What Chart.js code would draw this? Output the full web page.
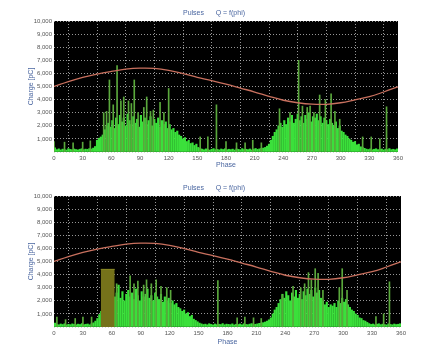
<!DOCTYPE html>
<html>
<head>
<meta charset="utf-8">
<script src="https://cdn.jsdelivr.net/npm/chart.js@4.4.0/dist/chart.umd.min.js"></script>
<style>
    html, body { margin: 0; padding: 0; background: #fff; }
    #wrap { position: relative; width: 428px; height: 353px; overflow: hidden; }
    .box { position: absolute; left: 0; width: 428px; }
    #top { top: 0; height: 172px; }
    #bottom { top: 175px; height: 178px; }
</style>
</head>
<body>
<div id="wrap">
    <div class="box" id="top"><canvas id="topChart"></canvas></div>
    <div class="box" id="bottom"><canvas id="bottomChart"></canvas></div>
</div>
<script>
// phase axis ticks
const phaseTicks = [0, 30, 60, 90, 120, 150, 180, 210, 240, 270, 300, 330, 360];

// pulse charge per 2 degree bin (0-2, 2-4, ... 358-360)
const topPulses = [
    320, 180, 240, 160, 220, 190, 150, 260, 200, 170, 230, 190, 160, 210, 250, 180, 220, 200, 260, 230, 300, 420,
    900, 1050, 1150, 1300, 1700, 2000,
    2200, 1900, 2400, 1800, 2600, 2100, 2800, 2300, 2600, 2000,
    2900, 2400, 2100, 2700, 2200, 2500, 1900, 2800, 2300, 2600,
    2100, 2400, 2700, 2000, 2500, 2200, 2600, 1900, 2400, 2100,
    2300, 1800, 2100, 1700, 1800, 1500, 1600, 1300, 1200, 1000,
    1100, 800, 900, 650, 700, 500, 600, 350,
    280, 220, 170, 240, 190, 150, 210, 260, 180, 200,
    160, 230, 190, 250, 170, 210, 180, 220, 150, 240,
    200, 170, 260, 190, 210, 180, 230, 160, 220, 270,
    200, 240, 280, 300, 350, 450,
    600, 900, 1200, 1500, 1700, 2000, 2200, 1900, 2400, 2100,
    2600, 2300, 2800, 2200, 2500, 2900, 2400, 2700, 2200, 2800,
    2500, 3000, 2300, 2700, 2600, 2900, 2400, 2700, 2200, 2600,
    2400, 2100, 2500, 2200, 2000, 2300, 1800, 2000, 1600, 1500,
    1300, 1200, 1000, 900, 750, 800, 550, 600, 400, 350,
    280, 220, 190, 240, 170, 210, 250, 180, 200, 230, 160, 220, 190, 260, 180, 210, 170, 240
];
const bottomPulses = [
    300, 200, 170, 230, 190, 250, 160, 210, 180, 240, 200, 170, 220, 190, 260, 180, 210, 230, 170, 250, 320, 450,
    650, 950,
    1200, 1500, 1800, 2000, 2200, 2400, 2500, 2300,
    2600, 3200, 2200, 2700, 2000, 2500, 2800, 2300, 2600, 2100,
    2900, 2400, 2000, 2700, 2300, 2500, 2900, 2200, 2400, 2000,
    2600, 2300, 2100, 2500, 1900, 2300, 2000, 2200, 1800, 2000,
    1700, 1800, 1500, 1400, 1200, 1300, 1000, 1100, 800, 900,
    600, 500, 400, 300,
    240, 190, 220, 170, 250, 200, 160, 230, 180, 210,
    190, 260, 170, 220, 200, 180, 240, 160, 210, 190,
    230, 170, 250, 200, 180, 220, 260, 190, 210, 240,
    280, 300, 330, 380, 450, 550,
    700, 1000, 1300, 1500, 1800, 2100, 2500, 2200, 2700, 2400,
    2000, 2600, 2300, 2800, 2200, 2500, 2100, 2700, 2400, 2900,
    2500, 2800, 2300, 3000, 2600, 2800, 2200, 2000, 1700, 1900,
    1500, 1700, 1600, 1800, 1500, 2000, 1800, 2200, 1900, 2100,
    1700, 1500, 1300, 1200, 1000, 900, 700, 650, 500, 450,
    350,
    260, 200, 230, 170, 210, 250, 180, 220, 190, 160, 240, 200, 170, 230, 190, 210, 250
];

// single tall pulses
const topSpikePhase = [0, 11, 20, 30, 38, 52, 55, 58, 62, 66, 70, 73, 78, 81, 84, 88, 94, 97, 101, 104, 111, 115, 120,
    153, 161, 170, 180, 191, 200, 208, 217, 236, 247, 256, 260, 265, 268, 272, 278, 284, 290, 294, 299, 323, 332, 341, 348];
const topSpikeCharge = [800, 750, 700, 750, 850, 3000, 3100, 5500, 3600, 6600, 3900, 4200, 3900, 3700, 5500, 3000, 3400, 4200, 3100, 3200, 3800, 3000, 4850,
    1150, 1150, 3600, 800, 700, 700, 900, 700, 3300, 3000, 7000, 3500, 3400, 3500, 3000, 4350, 4000, 4450, 3100, 2500, 1150, 1150, 1000, 3450];
const bottomSpikePhase = [3, 12, 22, 30, 39, 65, 79, 83, 87, 93, 96, 101, 106, 111, 117, 121,
    170, 190, 198, 207, 215, 237, 248, 256, 260, 264, 267, 271, 274, 279, 296, 299, 304, 334, 342, 348];
const bottomSpikeCharge = [760, 560, 650, 760, 760, 3300, 3900, 3300, 3500, 3200, 3600, 3300, 3600, 3100, 3000, 2800,
    3550, 700, 750, 700, 650, 2450, 3100, 3000, 3300, 4150, 3600, 4450, 4100, 2800, 3000, 4450, 2800, 800, 1000, 3450];

// reference sine (voltage) curve
const curvePhase = [0, 15, 30, 45, 60, 75, 90, 105, 120, 135, 150, 165, 180, 195, 210, 225, 240, 255, 270, 285, 300, 315, 330, 345, 360];
const curveCharge = [5000, 5380, 5700, 5950, 6150, 6320, 6400, 6380, 6230, 5980, 5700, 5450, 5180, 4880, 4580, 4250, 3950, 3760, 3650, 3640, 3760, 3980, 4220, 4580, 4980];

// gated window on the lower plot
const gatePhase = [48.5, 63];
const gateCharge = 4400;

const blue = '#4a66a0';
const font = { family: 'Liberation Sans, Arial, sans-serif', size: 6 };

const blackPlot = {
    id: 'blackPlot',
    beforeDraw(chart) {
        const a = chart.chartArea;
        chart.ctx.save();
        chart.ctx.fillStyle = '#000';
        chart.ctx.fillRect(a.left, a.top, a.right - a.left, a.bottom - a.top);
        chart.ctx.restore();
    }
};

function xy(xs, ys) {
    return xs.map(function (x, i) { return { x: x, y: ys[i] }; });
}

function makeChart(id, pulses, spikePhase, spikeCharge, gate, rightPad, xHeight, phasePad) {
    const datasets = [];
    datasets.push({
        type: 'line',
        data: xy(curvePhase, curveCharge),
        borderColor: '#c8705e',
        borderWidth: 1.3,
        pointRadius: 0,
        tension: 0.4,
        order: 0
    });
    if (gate) {
        datasets.push({
            type: 'line',
            data: gatePhase.map(function (p) { return { x: p, y: gateCharge }; }),
            borderColor: '#8c8c24',
            borderWidth: 1,
            backgroundColor: '#75721a',
            fill: 'origin',
            pointRadius: 0,
            order: 1
        });
    }
    datasets.push({
        type: 'bar',
        data: xy(spikePhase, spikeCharge),
        backgroundColor: '#5aa83c',
        barThickness: 1,
        order: 2
    });
    datasets.push({
        type: 'bar',
        data: pulses.map(function (v, i) { return { x: i * 2 + 1, y: v }; }),
        backgroundColor: '#3be03b',
        barThickness: 1.5,
        order: 3
    });

    return new Chart(document.getElementById(id), {
        type: 'bar',
        data: { datasets: datasets },
        plugins: [blackPlot],
        options: {
            responsive: true,
            maintainAspectRatio: false,
            animation: false,
            datasets: { bar: { grouped: false } },
            layout: { padding: 0 },
            plugins: {
                legend: { display: false },
                tooltip: { enabled: false },
                title: {
                    display: true,
                    text: 'Pulses      Q = f(phi)',
                    color: blue,
                    font: { family: font.family, size: 7, weight: 'normal' },
                    padding: { top: 9, bottom: 3.6 }
                }
            },
            scales: {
                x: {
                    type: 'linear',
                    min: 0,
                    max: 360,
                    offset: false,
                    afterBuildTicks: function (s) { s.ticks = phaseTicks.map(function (v) { return { value: v }; }); },
                    afterFit: function (s) { s.height = xHeight; },
                    ticks: { color: '#555', font: font, padding: 3, maxRotation: 0 },
                    grid: { color: 'rgba(200,200,200,0.75)', drawTicks: false },
                    border: { display: false, dash: [1, 2] },
                    title: { display: true, text: 'Phase', color: blue, font: { family: font.family, size: 7 }, padding: { top: 0, bottom: phasePad } }
                },
                y: {
                    min: 0,
                    max: 10000,
                    afterFit: function (s) { s.width = 54; },
                    ticks: {
                        stepSize: 1000,
                        color: '#555',
                        font: font,
                        padding: 2,
                        callback: function (v) { return v === 0 ? '' : v.toLocaleString('en-US'); }
                    },
                    grid: { color: 'rgba(200,200,200,0.75)', drawTicks: false },
                    border: { display: false, dash: [1, 2] },
                    title: { display: true, text: 'Charge [pC]', color: blue, font: { family: font.family, size: 7 }, padding: { top: 27, bottom: 0 } }
                },
                // empty strip on the right so the title stays centred on the page
                side: {
                    position: 'right',
                    min: 0,
                    max: 10000,
                    afterFit: function (s) { s.width = rightPad; },
                    ticks: { display: false },
                    grid: { display: false, drawTicks: false },
                    border: { display: false }
                }
            }
        }
    });
}

makeChart('topChart', topPulses, topSpikePhase, topSpikeCharge, false, 30, 20, 2.8);
makeChart('bottomChart', bottomPulses, bottomSpikePhase, bottomSpikeCharge, true, 27, 26, 6.8);
</script>
</body>
</html>
